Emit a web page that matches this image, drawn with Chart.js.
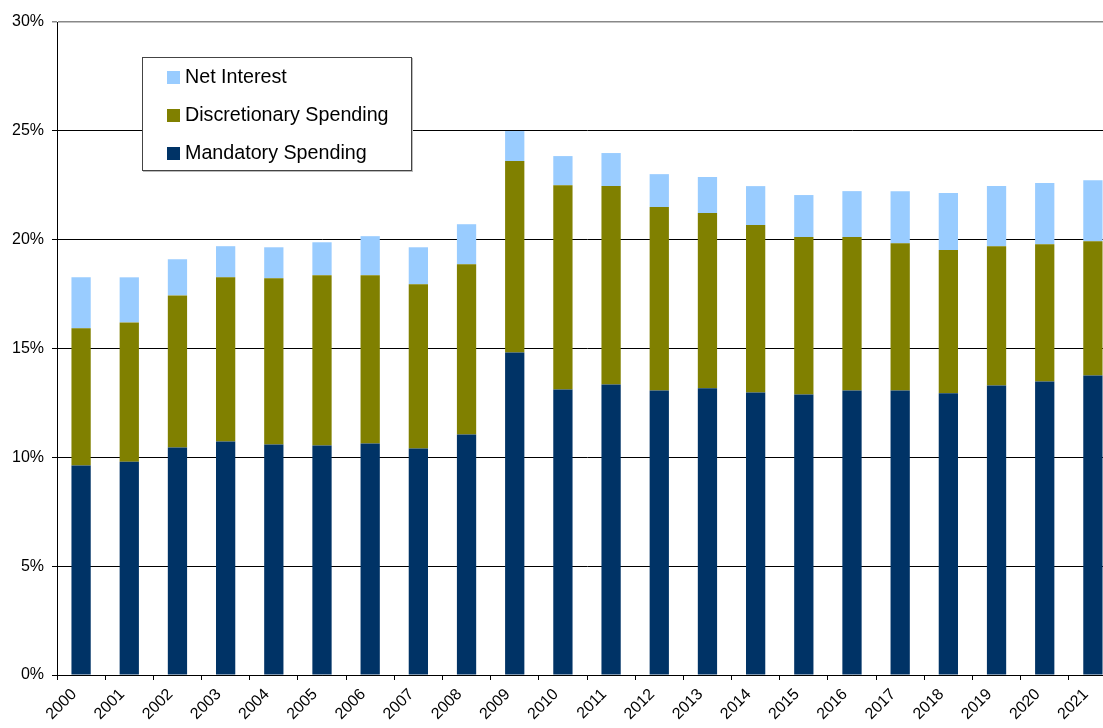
<!DOCTYPE html>
<html>
<head>
<meta charset="utf-8">
<script src="https://cdn.jsdelivr.net/npm/chart.js@4"></script>
<style>
  html, body { margin: 0; padding: 0; background: #fff; overflow: hidden; width: 1103px; height: 728px; }
  #wrap { position: relative; width: 1120px; height: 728px; }
  #legend {
    position: absolute; left: 142px; top: 57px; width: 268px; height: 112px;
    background: #fff; border: 1px solid #444; box-shadow: 1px 1px 0 #bbb;
    font-family: "Liberation Sans", Arial, sans-serif; font-size: 19.7px; color: #000;
  }
  #legend .item { position: absolute; left: 24px; height: 22px; line-height: 22px; white-space: nowrap; }
  #legend .sw { display: inline-block; width: 13px; height: 13px; margin-right: 5px; vertical-align: -1px; }
</style>
</head>
<body>
<div id="wrap">
  <canvas id="c" width="1120" height="728"></canvas>
  <div id="legend"></div>
</div>
<script>
const categories = ["2000","2001","2002","2003","2004","2005","2006","2007","2008","2009","2010",
                    "2011","2012","2013","2014","2015","2016","2017","2018","2019","2020","2021"];
const mandatory = [9.62, 9.80, 10.45, 10.73, 10.59, 10.54, 10.63, 10.41, 11.05, 14.82, 13.12,
                   13.35, 13.07, 13.17, 12.98, 12.89, 13.07, 13.07, 12.94, 13.30, 13.48, 13.76];
const discretionary = [6.31, 6.40, 6.99, 7.54, 7.64, 7.83, 7.74, 7.54, 7.82, 8.79, 9.38,
                       9.11, 8.43, 8.05, 7.69, 7.23, 7.05, 6.77, 6.58, 6.40, 6.31, 6.17];
const netInterest = [2.34, 2.07, 1.66, 1.43, 1.42, 1.51, 1.79, 1.70, 1.84, 1.38, 1.34,
                     1.52, 1.51, 1.66, 1.79, 1.93, 2.11, 2.39, 2.62, 2.76, 2.81, 2.80];
const yTicks = [0, 5, 10, 15, 20, 25, 30];

const FONT = "'Liberation Sans', Arial, sans-serif";

const chart = new Chart(document.getElementById('c'), {
  type: 'bar',
  data: {
    labels: categories,
    datasets: [
      { label: 'Mandatory Spending', data: mandatory, backgroundColor: '#003366' },
      { label: 'Discretionary Spending', data: discretionary, backgroundColor: '#808000' },
      { label: 'Net Interest', data: netInterest, backgroundColor: '#99CCFF' }
    ]
  },
  options: {
    responsive: false,
    animation: false,
    devicePixelRatio: 1,
    layout: { padding: { top: 22, right: 3, left: 0, bottom: 0 } },
    plugins: { legend: { display: false }, tooltip: { enabled: false } },
    datasets: { bar: { barPercentage: 0.4, categoryPercentage: 1.0 } },
    scales: {
      x: {
        stacked: true,
        offset: true,
        afterFit: s => { s.height = 728 - 675; },
        grid: { drawOnChartArea: false, drawTicks: true, tickLength: 5, color: '#000', offset: true },
        border: { color: '#000', width: 1 },
        ticks: { font: { family: FONT, size: 16 }, color: '#000', maxRotation: 45, minRotation: 45,
                 autoSkip: false, padding: 5, labelOffset: -7 }
      },
      y: {
        stacked: true,
        min: 0, max: 30,
        afterFit: s => { s.width = 57; },
        afterBuildTicks: s => { s.ticks = yTicks.map(v => ({ value: v })); },
        grid: {
          color: ctx => (ctx.tick && ctx.tick.value === 30) ? '#888' : '#000',
          lineWidth: ctx => (ctx.tick && ctx.tick.value === 30) ? 1.5 : 1,
          tickLength: 5, drawTicks: true
        },
        border: { color: '#000', width: 1 },
        ticks: { font: { family: FONT, size: 16 }, color: '#000', padding: 8, callback: v => v + '%' }
      }
    }
  }
});

// HTML legend built from datasets, reversed (top of stack first)
const legend = document.getElementById('legend');
const rows = chart.data.datasets.slice().reverse();
rows.forEach((ds, i) => {
  const d = document.createElement('div');
  d.className = 'item';
  d.style.top = (7 + i * 38) + 'px';
  const sw = document.createElement('span');
  sw.className = 'sw';
  sw.style.background = ds.backgroundColor;
  d.appendChild(sw);
  d.appendChild(document.createTextNode(ds.label));
  legend.appendChild(d);
});
</script>
</body>
</html>
